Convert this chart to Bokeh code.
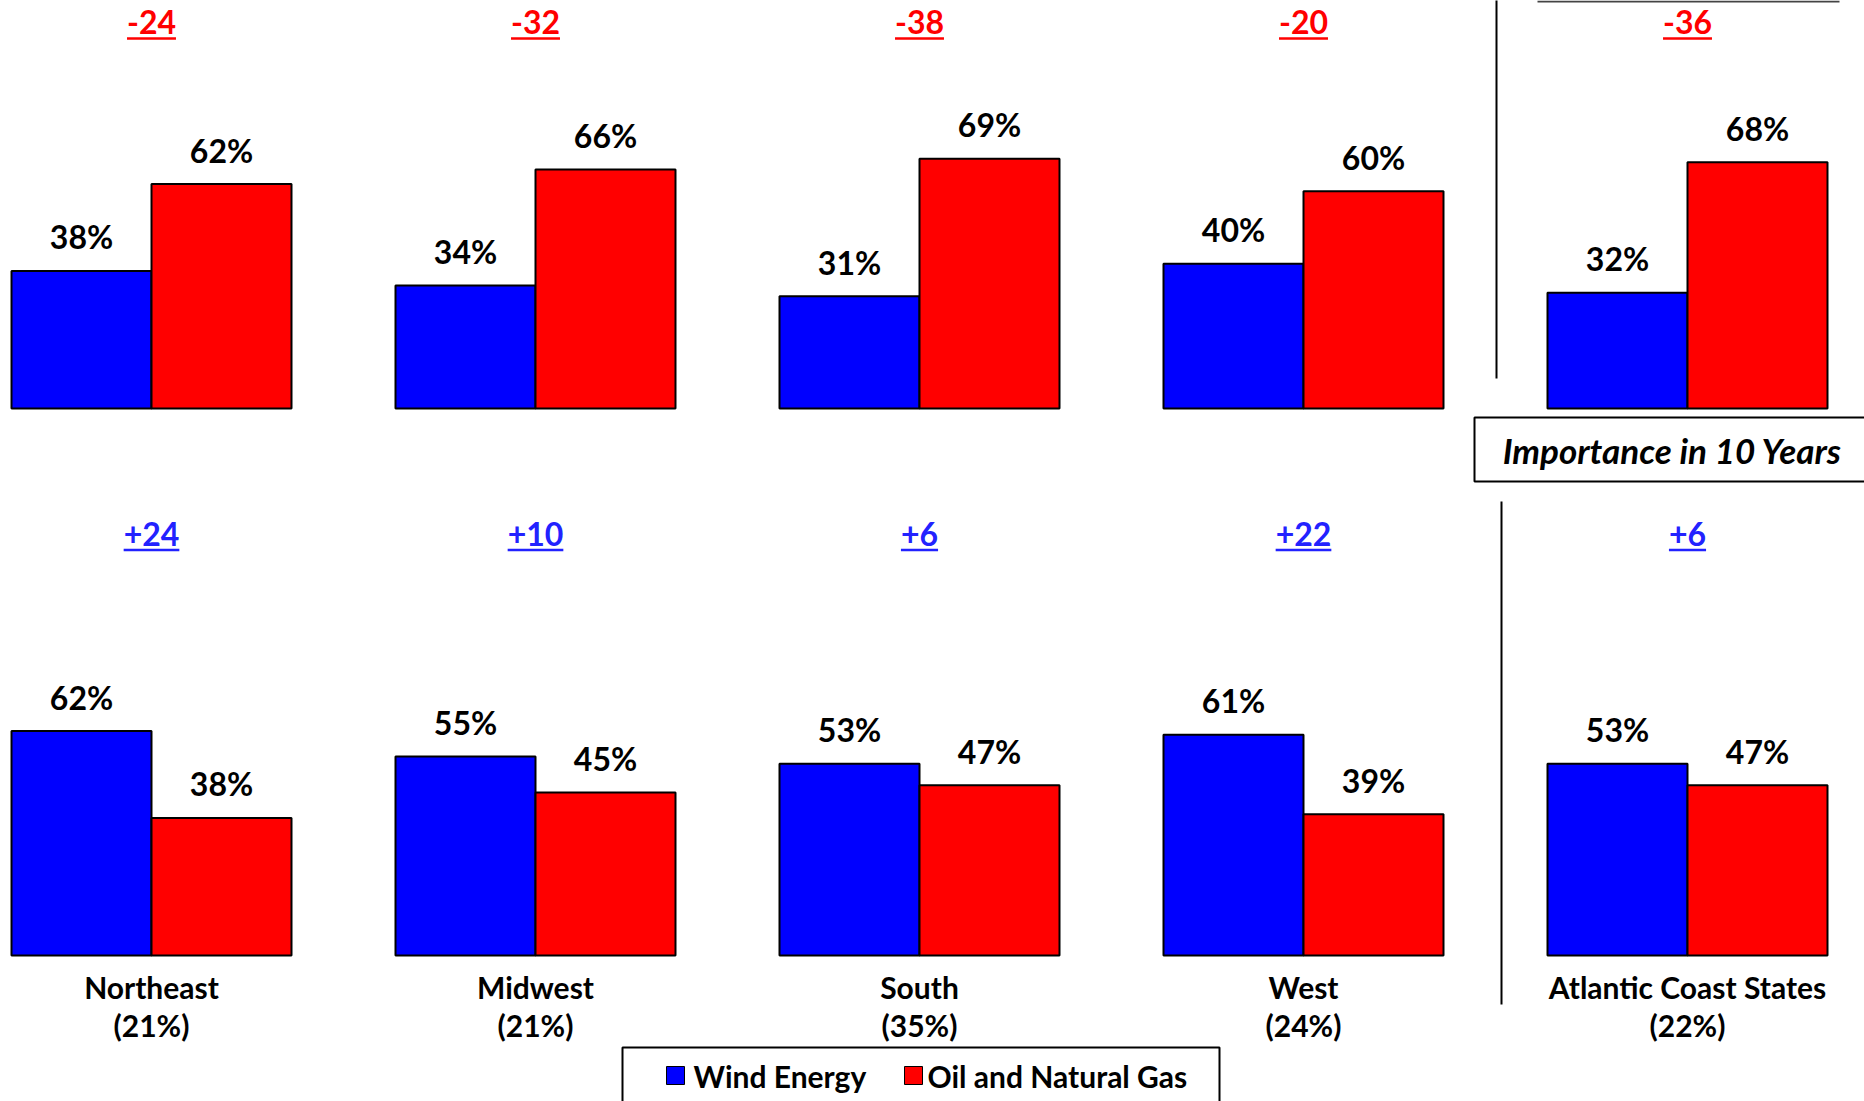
from bokeh.plotting import figure
from bokeh.models import Range1d, ColumnDataSource
from bokeh.embed import file_html
from bokeh.resources import INLINE
from bokeh.core.properties import value

# ---------------- data ----------------
REGIONS = ["Northeast", "Midwest", "South", "West", "Atlantic Coast States"]
SHARES = ["(21%)", "(21%)", "(35%)", "(24%)", "(22%)"]
SERIES = ["Wind Energy", "Oil and Natural Gas"]
TODAY_WIND = [38, 34, 31, 40, 32]
TODAY_OIL = [62, 66, 69, 60, 68]
TODAY_DIFF = ["-24", "-32", "-38", "-20", "-36"]
FUTURE_WIND = [62, 55, 53, 61, 53]
FUTURE_OIL = [38, 45, 47, 39, 47]
FUTURE_DIFF = ["+24", "+10", "+6", "+22", "+6"]
BOX_TITLE = "Importance in 10 Years"

# ---------------- layout / style ----------------
W, H = 1864, 1101
MARGIN = 0
PX_PER_GROUP = 384.0
PX_PER_PCT = 3.62
GROUP0_PAGE_X = 151.0
TOP_BASE_PAGE_Y = 408.0
BOT_BASE_PAGE_Y = 955.0
BAR_W = 140.0 / PX_PER_GROUP
BLUE = "#0000FF"
RED = "#FF0000"
DIFF_BLUE = "#2222FF"
FONT = value("Lato")


def px_x(page_x):
    return (page_x - GROUP0_PAGE_X) / PX_PER_GROUP


def py_top(page_y):
    return (TOP_BASE_PAGE_Y - page_y) / PX_PER_PCT


def py_bot(page_y):
    return (BOT_BASE_PAGE_Y - page_y) / PX_PER_PCT


p = figure(
    width=W, height=H,
    x_range=Range1d(px_x(MARGIN), px_x(MARGIN + W)),
    y_range=Range1d(py_top(MARGIN + H), py_top(MARGIN)),
    x_axis_type=None, y_axis_type=None,
    toolbar_location=None, output_backend="svg",
    min_border=0,
)
p.extra_y_ranges = {"bottom": Range1d(py_bot(MARGIN + H), py_bot(MARGIN))}
p.outline_line_color = None
p.background_fill_color = "white"
p.border_fill_color = "white"

idx = list(range(len(REGIONS)))
x_wind = [i - BAR_W / 2 for i in idx]
x_oil = [i + BAR_W / 2 for i in idx]


def char_w(s, size):
    w = 0.0
    for c in s:
        if c == "-":
            w += 0.37
        else:
            w += 0.58
    return w * size


def draw_row(wind, oil, diff, diff_color, yname, diff_y, under_y):
    kw = {} if yname is None else {"y_range_name": yname}
    src_w = ColumnDataSource(dict(x=x_wind, top=wind, lab=[f"{v}%" for v in wind]))
    src_o = ColumnDataSource(dict(x=x_oil, top=oil, lab=[f"{v}%" for v in oil]))
    p.vbar(x="x", top="top", bottom=0, width=BAR_W, source=src_w,
           fill_color=BLUE, line_color="black", line_width=2, **kw)
    p.vbar(x="x", top="top", bottom=0, width=BAR_W, source=src_o,
           fill_color=RED, line_color="black", line_width=2, **kw)
    for src in (src_w, src_o):
        p.text(x="x", y="top", text="lab", source=src, text_align="center",
               text_baseline="middle", y_offset=-34, text_font=FONT,
               text_font_style="bold", text_font_size="32px", text_color="black", **kw)
    # difference labels
    p.text(x=idx, y=[diff_y] * len(idx), text=diff, text_align="center",
           text_baseline="middle", text_font=FONT, text_font_style="bold",
           text_font_size="32px", text_color=diff_color, **kw)
    half = [char_w(d, 32) / 2 / PX_PER_GROUP for d in diff]
    p.segment(x0=[i - h for i, h in zip(idx, half)], x1=[i + h for i, h in zip(idx, half)],
              y0=[under_y] * len(idx), y1=[under_y] * len(idx),
              line_color=diff_color, line_width=2.5, **kw)


draw_row(TODAY_WIND, TODAY_OIL, TODAY_DIFF, RED, None, py_top(21), py_top(38))
draw_row(FUTURE_WIND, FUTURE_OIL, FUTURE_DIFF, DIFF_BLUE, "bottom", py_bot(533), py_bot(549.5))

# category labels under bottom row
p.text(x=idx, y=[0] * len(idx), text=REGIONS, text_align="center", text_baseline="middle",
       y_offset=31, text_font=FONT, text_font_style="bold", text_font_size="30px",
       text_color="black", y_range_name="bottom")
p.text(x=idx, y=[0] * len(idx), text=SHARES, text_align="center", text_baseline="middle",
       y_offset=69, text_font=FONT, text_font_style="bold", text_font_size="30px",
       text_color="black", y_range_name="bottom")

# separators
p.segment(x0=[px_x(1496)], x1=[px_x(1496)], y0=[py_top(378)], y1=[py_top(-2)],
          line_color="black", line_width=2)
p.segment(x0=[px_x(1501)], x1=[px_x(1501)], y0=[py_bot(501)], y1=[py_bot(1004)],
          line_color="black", line_width=2, y_range_name="bottom")
# bottom edge of a box lying above the page
p.segment(x0=[px_x(1537)], x1=[px_x(1839)], y0=[py_top(1)], y1=[py_top(1)],
          line_color="#444444", line_width=2)

# "Importance in 10 Years" box
p.quad(left=[px_x(1474)], right=[px_x(1900)], top=[py_top(417)], bottom=[py_top(481)],
       fill_color="white", line_color="black", line_width=2)
p.text(x=[px_x(1672)], y=[py_top(449)], text=[BOX_TITLE], text_align="center",
       text_baseline="middle", text_font=FONT, text_font_style="bold italic",
       text_font_size="35px", text_color="black")

# legend
p.quad(left=[px_x(622)], right=[px_x(1219)], top=[py_bot(1047)], bottom=[py_bot(1140)],
       fill_color="white", line_color="black", line_width=2, y_range_name="bottom")
leg_sq_x = [px_x(675), px_x(913)]
leg_tx_x = [px_x(693), px_x(927)]
leg_y = py_bot(1075)
p.rect(x=leg_sq_x, y=[leg_y] * 2, width=18, height=18, width_units="screen",
       height_units="screen", fill_color=[BLUE, RED], line_color="black", line_width=1,
       y_range_name="bottom")
p.text(x=leg_tx_x, y=[leg_y] * 2, text=SERIES, text_align="left", text_baseline="middle",
       text_font=FONT, text_font_style="bold", text_font_size="30px", text_color="black",
       y_range_name="bottom")

open("out.html", "w").write(file_html(p, INLINE))
